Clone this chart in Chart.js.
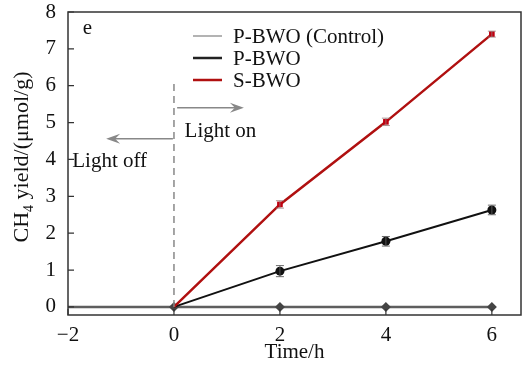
<!DOCTYPE html>
<html>
<head>
<meta charset="utf-8">
<script src="https://cdn.jsdelivr.net/npm/chart.js@4.4.1/dist/chart.umd.min.js"></script>
<style>
  body { margin: 0; background: #fff; }
  #wrap { width: 522px; height: 365px; }
</style>
</head>
<body>
<div id="wrap"><canvas id="graph"></canvas></div>
<script>
// data
var times = [0, 2, 4, 6]
var controlTimes = [-2, 0, 2, 4, 6]
var controlYield = [0, 0, 0, 0, 0]
var pbwoYield = [0, 0.97, 1.78, 2.63]
var pbwoErr = [0, 0.15, 0.13, 0.13]
var sbwoYield = [0, 2.78, 5.02, 7.40]
var sbwoErr = [0, 0.10, 0.10, 0.08]
var xTicks = [-2, 0, 2, 4, 6]
var yTicks = [0, 1, 2, 3, 4, 5, 6, 7, 8]
var legendNames = ["P-BWO (Control)", "P-BWO", "S-BWO"]

var FONT = "'Liberation Serif', 'Times New Roman', serif"

function pts(xs, ys) {
    var out = []
    for (var i = 0; i < xs.length; i++) out.push({x: xs[i], y: ys[i]})
    return out
}

// error bars, inward ticks, box, arrows, labels, legend
var extras = {
    id: 'extras',
    afterDatasetsDraw: function (chart) {
        var c = chart.ctx, xs = chart.scales.x, ys = chart.scales.y, a = chart.chartArea
        c.save()

        // error bars
        function bars(vals, errs, col) {
            c.strokeStyle = col
            c.lineWidth = 1
            for (var i = 0; i < vals.length; i++) {
                if (!errs[i]) continue
                var px = xs.getPixelForValue(times[i])
                var y1 = ys.getPixelForValue(vals[i] + errs[i])
                var y2 = ys.getPixelForValue(vals[i] - errs[i])
                c.beginPath()
                c.moveTo(px, y1); c.lineTo(px, y2)
                c.moveTo(px - 4, y1); c.lineTo(px + 4, y1)
                c.moveTo(px - 4, y2); c.lineTo(px + 4, y2)
                c.stroke()
            }
        }
        bars(sbwoYield, sbwoErr, 'rgba(150,120,120,0.8)')
        bars(pbwoYield, pbwoErr, 'rgba(90,90,90,0.9)')

        // frame
        c.strokeStyle = '#333'
        c.lineWidth = 1.5
        c.strokeRect(a.left, a.top, a.right - a.left, a.bottom - a.top)

        // inward ticks
        c.lineWidth = 1.2
        c.beginPath()
        xTicks.forEach(function (v) {
            var px = xs.getPixelForValue(v)
            c.moveTo(px, a.bottom); c.lineTo(px, a.bottom - 6)
        })
        yTicks.forEach(function (v) {
            var py = ys.getPixelForValue(v)
            c.moveTo(a.left, py); c.lineTo(a.left + 6, py)
        })
        c.stroke()

        // light on / off divider
        c.strokeStyle = '#888'
        c.lineWidth = 1.5
        c.setLineDash([7, 5])
        c.beginPath()
        c.moveTo(xs.getPixelForValue(0), ys.getPixelForValue(0))
        c.lineTo(xs.getPixelForValue(0), ys.getPixelForValue(6.1))
        c.stroke()
        c.setLineDash([])

        function arrow(x1, x2, yv) {
            var p1 = xs.getPixelForValue(x1), p2 = xs.getPixelForValue(x2), py = ys.getPixelForValue(yv)
            var d = p2 > p1 ? 1 : -1
            c.strokeStyle = '#888'
            c.fillStyle = '#888'
            c.lineWidth = 1.5
            c.beginPath()
            c.moveTo(p1, py); c.lineTo(p2 - d * 8, py)
            c.stroke()
            c.beginPath()
            c.moveTo(p2, py)
            c.lineTo(p2 - d * 14, py - 5)
            c.lineTo(p2 - d * 9, py)
            c.lineTo(p2 - d * 14, py + 5)
            c.closePath()
            c.fill()
        }
        arrow(0.06, 1.32, 5.40)
        arrow(-0.02, -1.28, 4.56)

        c.fillStyle = '#111'
        c.font = '21px ' + FONT
        c.textAlign = 'left'
        c.textBaseline = 'alphabetic'
        c.fillText('Light on', xs.getPixelForValue(0.2), ys.getPixelForValue(4.6))
        c.fillText('Light off', xs.getPixelForValue(-1.92), ys.getPixelForValue(3.8))
        c.fillText('e', xs.getPixelForValue(-1.72), ys.getPixelForValue(7.4))

        // legend
        var cols = ['#9a9a9a', '#222', '#b01010']
        c.textBaseline = 'middle'
        for (var i = 0; i < legendNames.length; i++) {
            var ly = 36 + i * 22
            c.strokeStyle = cols[i]
            c.lineWidth = i == 0 ? 1.5 : 2.5
            c.beginPath()
            c.moveTo(193, ly); c.lineTo(222, ly)
            c.stroke()
            c.fillText(legendNames[i], 233, ly + 1)
        }

        // y title with subscript
        c.translate(22, 157)
        c.rotate(-Math.PI / 2)
        c.textBaseline = 'middle'
        c.textAlign = 'left'
        c.font = '22px ' + FONT
        var w1 = c.measureText('CH').width
        c.font = '14px ' + FONT
        var w2 = c.measureText('4').width
        c.font = '22px ' + FONT
        var w3 = c.measureText(' yield/(\u03bcmol/g)').width
        var x0 = -(w1 + w2 + w3) / 2
        c.fillText('CH', x0, 0)
        c.font = '14px ' + FONT
        c.fillText('4', x0 + w1, 7)
        c.font = '22px ' + FONT
        c.fillText(' yield/(\u03bcmol/g)', x0 + w1 + w2, 0)
        c.restore()
    }
}

var ctx = document.getElementById("graph").getContext("2d")

var graph = new Chart(ctx, {
    type: 'line',
    data: {
        datasets: [{
            label: legendNames[2],
            data: pts(times, sbwoYield),
            borderColor: '#b01010',
            backgroundColor: '#c00010',
            borderWidth: 2.5,
            pointStyle: 'rect',
            pointRadius: [0, 4, 4, 4],
            pointBorderWidth: 0
        }, {
            label: legendNames[1],
            data: pts(times, pbwoYield),
            borderColor: '#111',
            backgroundColor: '#111',
            borderWidth: 2,
            pointStyle: 'circle',
            pointRadius: [0, 4.5, 4.5, 4.5],
            pointBorderWidth: 0
        }, {
            label: legendNames[0],
            data: pts(controlTimes, controlYield),
            borderColor: '#5e5e5e',
            backgroundColor: '#444',
            borderWidth: 2.5,
            pointStyle: 'rectRot',
            pointRadius: [0, 5, 5, 5, 5],
            pointBorderWidth: 0
        }]
    },
    options: {
        responsive: true,
        maintainAspectRatio: false,
        animation: false,
        layout: { autoPadding: false, padding: { top: 12, right: 1, left: 0, bottom: 0 } },
        plugins: { legend: { display: false }, tooltip: { enabled: false } },
        scales: {
            x: {
                type: 'linear',
                min: -2,
                max: 6.55,
                afterFit: function (s) { s.height = 50; s.paddingLeft = 0; s.paddingRight = 0 },
                afterBuildTicks: function (s) { s.ticks = xTicks.map(function (v) { return {value: v} }) },
                grid: { display: false, drawTicks: false },
                border: { display: false },
                ticks: {
                    color: '#111',
                    padding: 8,
                    font: { family: FONT, size: 21 },
                    callback: function (v) { return String(v).replace('-', '\u2212') }
                },
                title: {
                    display: true,
                    text: 'Time/h',
                    color: '#111',
                    padding: { top: 0, bottom: 0 },
                    font: { family: FONT, size: 21 }
                }
            },
            y: {
                min: -0.22,
                max: 8,
                afterFit: function (s) { s.width = 68; s.paddingTop = 0; s.paddingBottom = 0 },
                afterBuildTicks: function (s) { s.ticks = yTicks.map(function (v) { return {value: v} }) },
                grid: { display: false, drawTicks: false },
                border: { display: false },
                ticks: {
                    color: '#111',
                    padding: 12,
                    font: { family: FONT, size: 21 }
                }
            }
        }
    },
    plugins: [extras]
})
</script>
</body>
</html>
